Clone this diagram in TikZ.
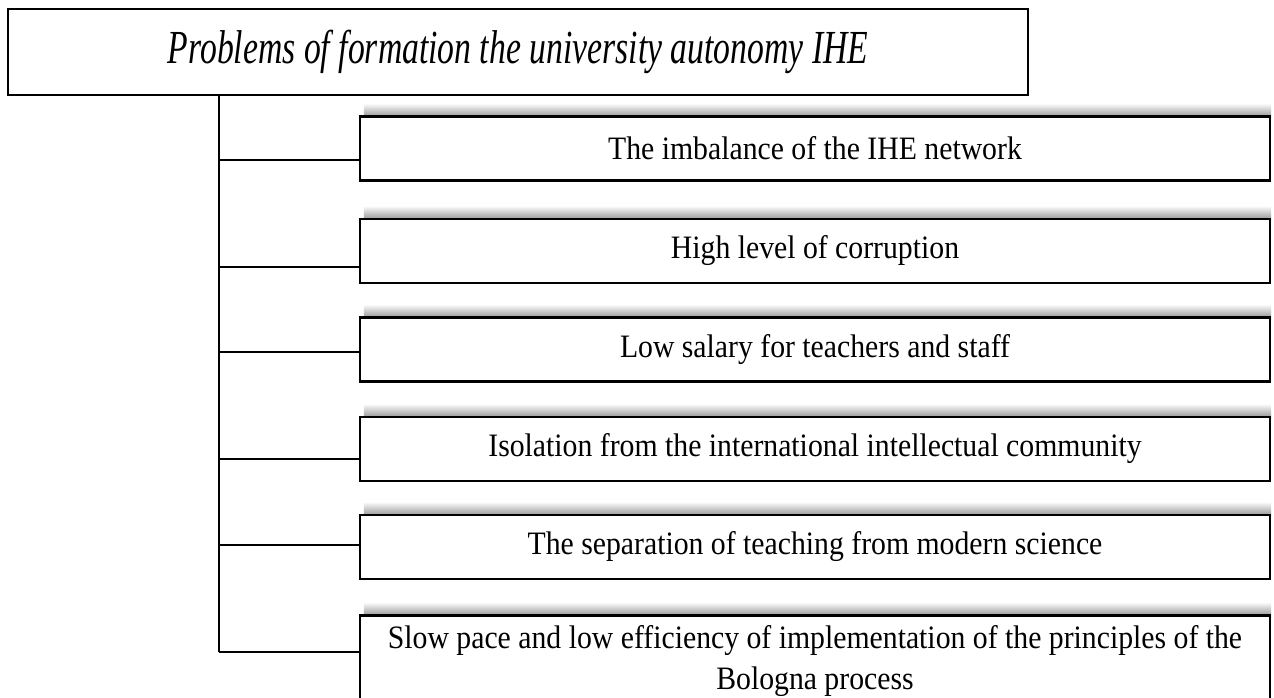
\documentclass[tikz,border=0pt]{standalone}
\usepackage{fontspec}
\setmainfont{Liberation Serif}
\newfontfamily\titlefont{Liberation Serif}[FakeStretch=0.71]
\newfontfamily\boxfont{Liberation Serif}[FakeStretch=0.91]
\usetikzlibrary{backgrounds}

\begin{document}
\begin{tikzpicture}[x=0.02cm, y=-0.02cm,
    topbx/.style={rectangle, draw, line width=1.2pt, fill=white,
                  minimum width=20.4cm, minimum height=1.72cm,
                  font=\titlefont\fontsize{27}{30}\selectfont\itshape},
    bx/.style={rectangle, draw, line width=1.5pt, fill=white,
               minimum width=18.2cm, minimum height=1.28cm,
               inner sep=2pt, font=\boxfont\fontsize{18.6}{23.2}\selectfont},
    conn/.style={draw, line width=0.8pt},
    shd/.style={top color=white, bottom color=black!45}
  ]
  \useasboundingbox (0,0) rectangle (1274,697);
  \clip (0,0) rectangle (1274,697);

  \node[topbx] (title) at (518,52)
        {Problems of formation the university autonomy IHE};

  \node[bx] (b1) at (815,148.5) {The imbalance of the IHE network};
  \node[bx] (b2) at (815,251)   {High level of corruption};
  \node[bx] (b3) at (815,349.5) {Low salary for teachers and staff};
  \node[bx] (b4) at (815,449)
        {Isolation from the international intellectual community};
  \node[bx] (b5) at (815,547)
        {The separation of teaching from modern science};
  \node[bx, anchor=north, minimum height=2.4cm] (b6) at (815,614)
        {\parbox[c][2.2cm][t]{18cm}{\centering
         \strut Slow pace and low efficiency of implementation of the principles of the\\
         Bologna process}};

  % shadows above the problem boxes
  \begin{scope}[on background layer]
    \foreach \b in {b1,b2,b3,b4,b5,b6}
      \shade[shd] ([shift={(5,-12)}]\b.north west)
            rectangle ([shift={(0,3)}]\b.north east);
  \end{scope}

  \foreach \i/\y in {1/160, 2/267, 3/352, 4/459, 5/545, 6/652}
    \coordinate (j\i) at (219,\y);
  \draw[conn] (title.south -| j1) -- (j6);
  \foreach \i in {1,...,6}
    \draw[conn] (j\i) -- (j\i -| b\i.west);
\end{tikzpicture}
\end{document}
